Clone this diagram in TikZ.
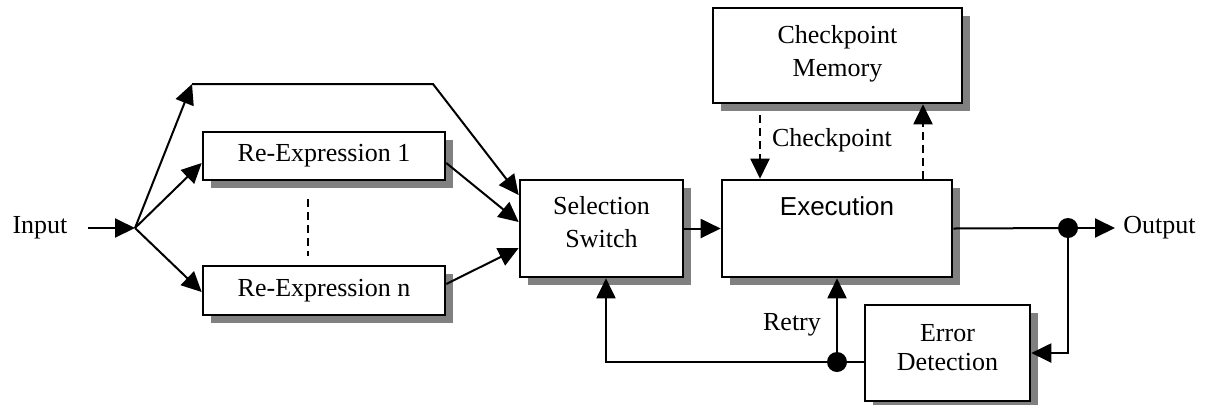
\documentclass[tikz,border=0pt]{standalone}
\usepackage{fontspec}
\setmainfont{Liberation Serif}
\newfontfamily\arialfont{Liberation Sans}
\usetikzlibrary{arrows.meta,shadows}
\begin{document}
\begin{tikzpicture}[x=0.5pt,y=-0.5pt,
  box/.style={draw,line width=1.3pt,fill=white,
    drop shadow={shadow xshift=4pt,shadow yshift=-4pt,fill=black!50,opacity=1},
    inner sep=0pt,font=\fontsize{13}{16.5}\selectfont,align=center},
  conn/.style={line width=1pt},
  arr/.style={conn,-{Triangle[length=10pt,width=9.5pt]}},
  dsh/.style={dash pattern=on 4pt off 2.5pt},
  lbl/.style={font=\fontsize{13}{16}\selectfont,inner sep=0pt},
  dot/.style={circle,fill,inner sep=0pt,minimum size=10pt}]
\useasboundingbox (0,0) rectangle (1207,404);
% boxes
\node[box,minimum width=121pt,minimum height=24pt] (re1) at (324,156) {Re-Expression 1};
\node[box,minimum width=121pt,minimum height=24.5pt] (ren) at (324,290.5) {Re-Expression n};
\node[box,minimum width=81.5pt,minimum height=48.5pt] (sel) at (601.5,228.5) {Selection\\Switch\\[-9.5pt]};
\node[box,minimum width=115pt,minimum height=48.5pt] (exec) at (837,228.5) {};
\node[lbl,font=\arialfont\fontsize{13}{16}\selectfont] (exectxt) at (837,206) {Execution};
\node[box,minimum width=124.5pt,minimum height=47.5pt] (cm) at (837.5,55.5) {Checkpoint\\Memory\\[-12pt]};
\node[box,minimum width=82.5pt,minimum height=48pt,font=\fontsize{13}{14.5}\selectfont] (ed) at (947.5,353) {Error\\Detection\\[-9pt]};
% labels
\node[lbl] (in) at (40,228) {Input};
\node[lbl,anchor=west] (out) at (1123,228) {Output};
\node[lbl] (cplbl) at (832,140) {Checkpoint};
\node[lbl] (retry) at (792,325) {Retry};
% coordinates
\coordinate (split) at (135,228);
\coordinate (c1) at (192,84);
\coordinate (c2) at (433,84);
\coordinate (cpa) at (760,115);
\coordinate (cpx) at (923,0);
\coordinate (odot) at (1068,228);
\coordinate (bdot) at (837,362);
\coordinate (bl) at (606,362);
% connectors
\draw[arr] ([xshift=10pt]in.east) -- (split);
\draw[arr] (split) -- (c1);
\draw[arr] (c1) -- (c2) -- ([yshift=16.75pt]sel.west);
\draw[arr] (split) -- ([yshift=-3.5pt]re1.west);
\draw[arr] (split) -- ([yshift=-0.75pt]ren.west);
\draw[arr] ([yshift=-3.5pt]re1.east) -- ([yshift=3.25pt]sel.west);
\draw[arr] ([yshift=3.25pt]ren.east) -- ([yshift=-9.75pt]sel.west);
\draw[conn,dsh] ([xshift=-8pt,yshift=-9pt]re1.south) -- ([xshift=-8pt,yshift=4.5pt]ren.north);
\draw[arr] (sel.east) -- (exec.west);
\draw[arr,dsh] (cpa) -- (cpa |- exec.north);
\draw[arr,dsh] (exec.north -| cpx) -- (cm.south -| cpx);
\draw[conn] (exec.east) -- (odot);
\draw[arr] (odot) -- ([xshift=-4pt]out.west);
\draw[arr] (odot) -- (odot |- ed.east) -- (ed.east);
\draw[conn] (ed.west |- bdot) -- (bdot);
\draw[arr] (bdot) -- (exec.south);
\draw[arr] (bdot) -- (bl) -- (bl |- sel.south);
\node[dot] (d1) at (odot) {};
\node[dot] (d2) at (bdot) {};
\end{tikzpicture}
\end{document}
